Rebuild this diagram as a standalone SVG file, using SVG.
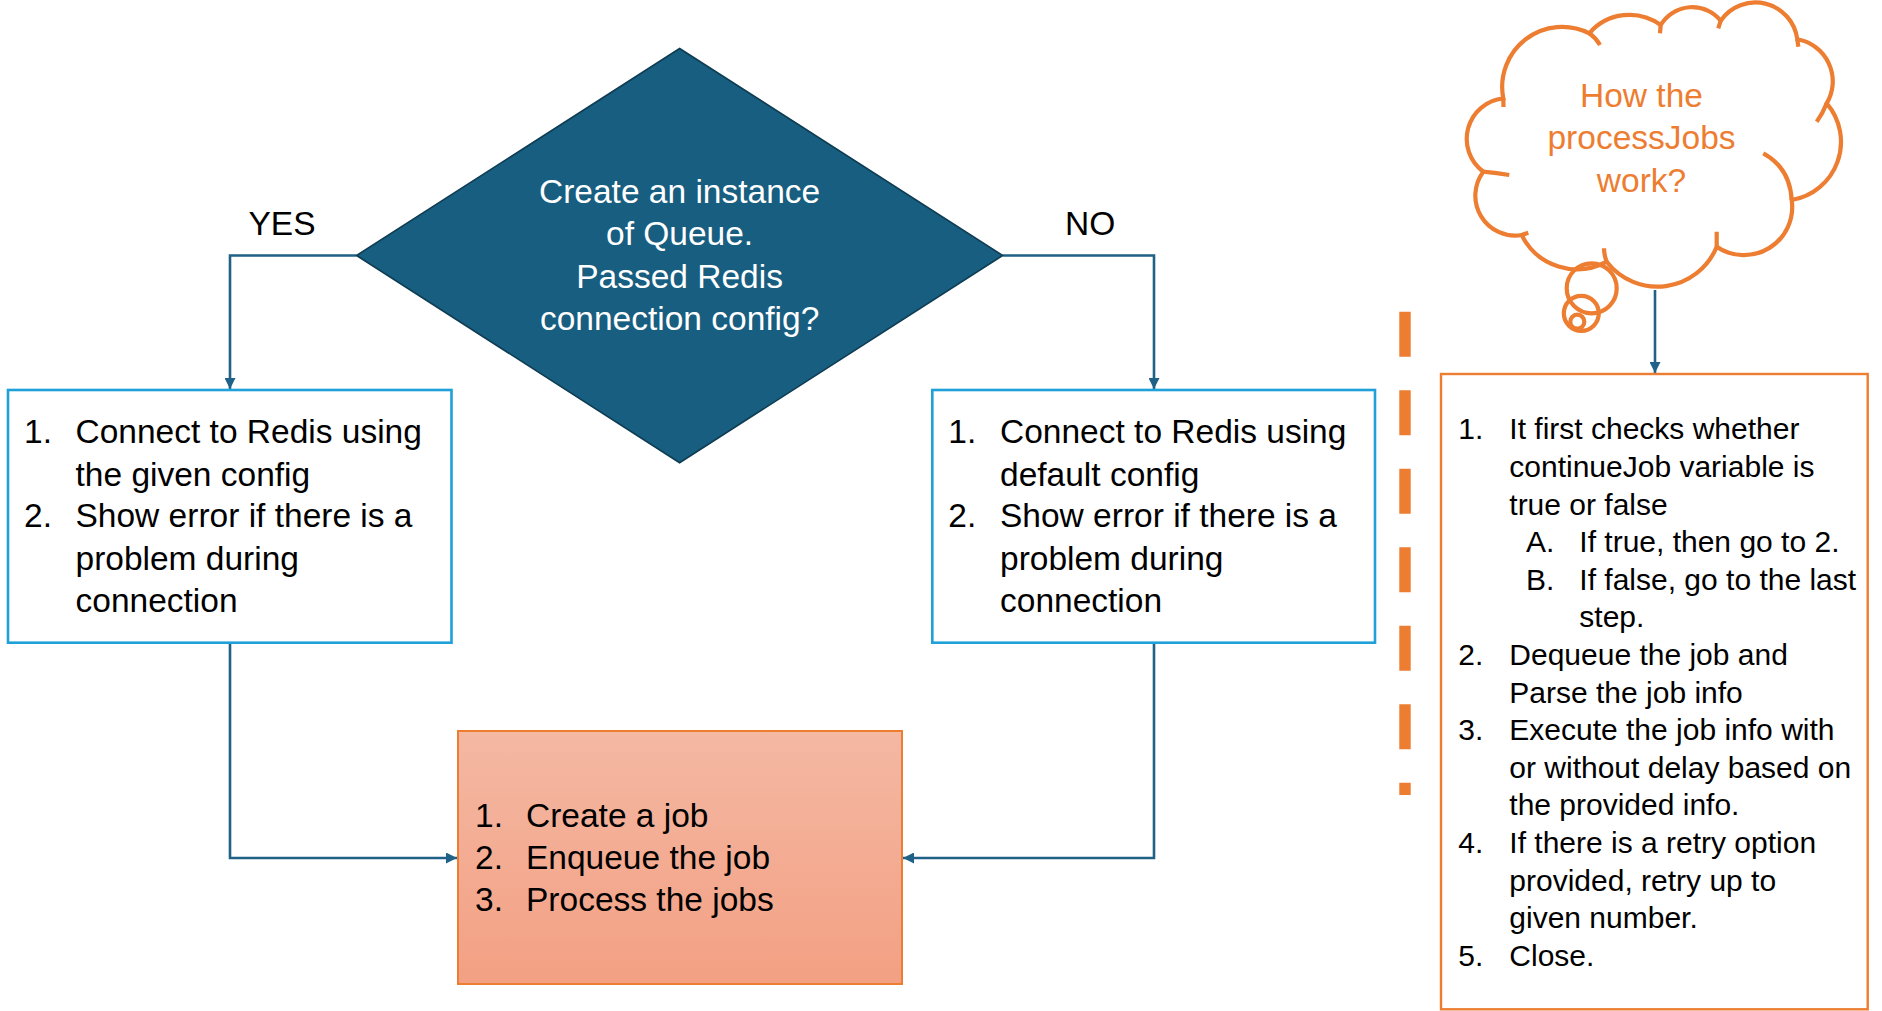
<svg xmlns="http://www.w3.org/2000/svg" width="1882" height="1011" viewBox="0 0 1882 1011">
<defs>
<style>
.t{font-family:"Liberation Sans",Arial,sans-serif;font-size:33.5px;fill:#000}
.w{fill:#fff}
.o{fill:#ED7D31}
.s{font-family:"Liberation Sans",Arial,sans-serif;font-size:30px;fill:#000}
.box{fill:#fff;stroke:#1FA0D8;stroke-width:2.6}
.conn{fill:none;stroke:#1F6187;stroke-width:2.6}
.cl{fill:none;stroke:#ED7D31;stroke-width:4.2;stroke-linecap:butt}
</style>
<marker id="arr" viewBox="0 0 10 10" refX="10" refY="5" markerWidth="11" markerHeight="11" markerUnits="userSpaceOnUse" orient="auto">
<path d="M0,0 L10,5 L0,10 z" fill="#1F6187"/>
</marker>
<linearGradient id="grad" x1="0" y1="0" x2="0" y2="1">
<stop offset="0" stop-color="#F4B8A3"/>
<stop offset="1" stop-color="#F3A083"/>
</linearGradient>
</defs>
<rect width="1882" height="1011" fill="#fff"/>

<g id="connectors">
<path class="conn" d="M356.5 255.5 H230 V389" marker-end="url(#arr)"/>
<path class="conn" d="M1002.7 255.5 H1154 V389" marker-end="url(#arr)"/>
<path class="conn" d="M230 643 V858 H457" marker-end="url(#arr)"/>
<path class="conn" d="M1154 643 V858 H903" marker-end="url(#arr)"/>
<path class="conn" d="M1655 290 V373" marker-end="url(#arr)"/>
</g>

<g id="decision">
<polygon points="679.6,48.5 1002.7,255.5 679.6,462.7 356.5,255.5" fill="#185E80" stroke="#0E3C52" stroke-width="1.6"/>
<text class="t w" text-anchor="middle" x="679.6" y="202.5">Create an instance</text>
<text class="t w" text-anchor="middle" x="679.6" y="245">of Queue.</text>
<text class="t w" text-anchor="middle" x="679.6" y="287.5">Passed Redis</text>
<text class="t w" text-anchor="middle" x="679.6" y="330">connection config?</text>
</g>

<g id="label-yes">
<text class="t" text-anchor="middle" x="282" y="235">YES</text>
</g>
<g id="label-no">
<text class="t" x="1065" y="235">NO</text>
</g>

<g id="box-yes">
<rect class="box" x="8" y="390" width="443.5" height="252.7"/>
<text class="t" x="24" y="443.3">1.</text>
<text class="t" x="75.5" y="443.3">Connect to Redis using</text>
<text class="t" x="75.5" y="485.5">the given config</text>
<text class="t" x="24" y="527.3">2.</text>
<text class="t" x="75.5" y="527.3">Show error if there is a</text>
<text class="t" x="75.5" y="569.5">problem during</text>
<text class="t" x="75.5" y="611.7">connection</text>
</g>

<g id="box-no">
<rect class="box" x="932.3" y="390" width="442.7" height="252.7"/>
<text class="t" x="948.3" y="443.3">1.</text>
<text class="t" x="1000" y="443.3">Connect to Redis using</text>
<text class="t" x="1000" y="485.5">default config</text>
<text class="t" x="948.3" y="527.3">2.</text>
<text class="t" x="1000" y="527.3">Show error if there is a</text>
<text class="t" x="1000" y="569.5">problem during</text>
<text class="t" x="1000" y="611.7">connection</text>
</g>

<g id="box-process">
<rect x="458" y="731" width="444" height="253" fill="url(#grad)" stroke="#ED7D31" stroke-width="2"/>
<text class="t" x="475" y="827">1.</text>
<text class="t" x="526" y="827">Create a job</text>
<text class="t" x="475" y="869">2.</text>
<text class="t" x="526" y="869">Enqueue the job</text>
<text class="t" x="475" y="911">3.</text>
<text class="t" x="526" y="911">Process the jobs</text>
</g>

<g id="separator">
<line x1="1405" y1="311.7" x2="1405" y2="795" stroke="#ED7D31" stroke-width="11.4" stroke-dasharray="45 33.5"/>
</g>

<g id="cloud">
<path class="cl" fill="#fff" d="M1503.3 98.3 A60 60 0 0 1 1589.3 33.3 A53 53 0 0 1 1660.7 25 A36.7 36.7 0 0 1 1720.7 20.7 A42.2 42.2 0 0 1 1797.3 39.3 A42.7 42.7 0 0 1 1826.7 103.3 A59 59 0 0 1 1791.7 200 A48.2 48.2 0 0 1 1716.7 246.7 A64 64 0 0 1 1606.7 261.7 A61.7 61.7 0 0 1 1521.7 235 A39.9 39.9 0 0 1 1483.3 171.7 A40.8 40.8 0 0 1 1503.3 98.3 Z"/>
<path class="cl" d="M1503.3 98.3 L1503.5 107 M1589.3 33.3 Q1596 38 1600 45 M1660.7 25 L1660 33.3 M1720.7 20.7 L1718.3 28.3 M1797.3 39.3 L1798.3 46.7 M1826.7 103.3 Q1823 113 1816.7 121.7 M1763.3 153.3 Q1790 168 1791.7 200 M1716.7 246.7 L1716.7 231.7 M1606.7 261.7 Q1604 255 1604 248.3 M1521.7 235 L1528.3 232.7 M1483.3 171.7 Q1497 173 1509.3 175"/>
<circle class="cl" cx="1591.7" cy="288.3" r="25"/>
<circle class="cl" cx="1581.3" cy="313.3" r="17.5"/>
<circle class="cl" cx="1577.3" cy="321.7" r="7"/>
<text class="t o" text-anchor="middle" x="1641.5" y="107.3">How the</text>
<text class="t o" text-anchor="middle" x="1641.5" y="149.3">processJobs</text>
<text class="t o" text-anchor="middle" x="1641.5" y="191.5">work?</text>
</g>

<g id="steps-box">
<rect x="1441" y="374" width="426.7" height="635.3" fill="#fff" stroke="#ED7D31" stroke-width="2.4"/>
<text class="s" x="1458.3" y="439.3">1.</text>
<text class="s" x="1509.3" y="439.3">It first checks whether</text>
<text class="s" x="1509.3" y="476.9">continueJob variable is</text>
<text class="s" x="1509.3" y="514.5">true or false</text>
<text class="s" x="1526" y="552.1">A.</text>
<text class="s" x="1579.3" y="552.1">If true, then go to 2.</text>
<text class="s" x="1526" y="589.7">B.</text>
<text class="s" x="1579.3" y="589.7">If false, go to the last</text>
<text class="s" x="1579.3" y="627.3">step.</text>
<text class="s" x="1458.3" y="664.9">2.</text>
<text class="s" x="1509.3" y="664.9">Dequeue the job and</text>
<text class="s" x="1509.3" y="702.5">Parse the job info</text>
<text class="s" x="1458.3" y="740.1">3.</text>
<text class="s" x="1509.3" y="740.1">Execute the job info with</text>
<text class="s" x="1509.3" y="777.7">or without delay based on</text>
<text class="s" x="1509.3" y="815.3">the provided info.</text>
<text class="s" x="1458.3" y="852.9">4.</text>
<text class="s" x="1509.3" y="852.9">If there is a retry option</text>
<text class="s" x="1509.3" y="890.5">provided, retry up to</text>
<text class="s" x="1509.3" y="928.1">given number.</text>
<text class="s" x="1458.3" y="965.7">5.</text>
<text class="s" x="1509.3" y="965.7">Close.</text>
</g>
</svg>
